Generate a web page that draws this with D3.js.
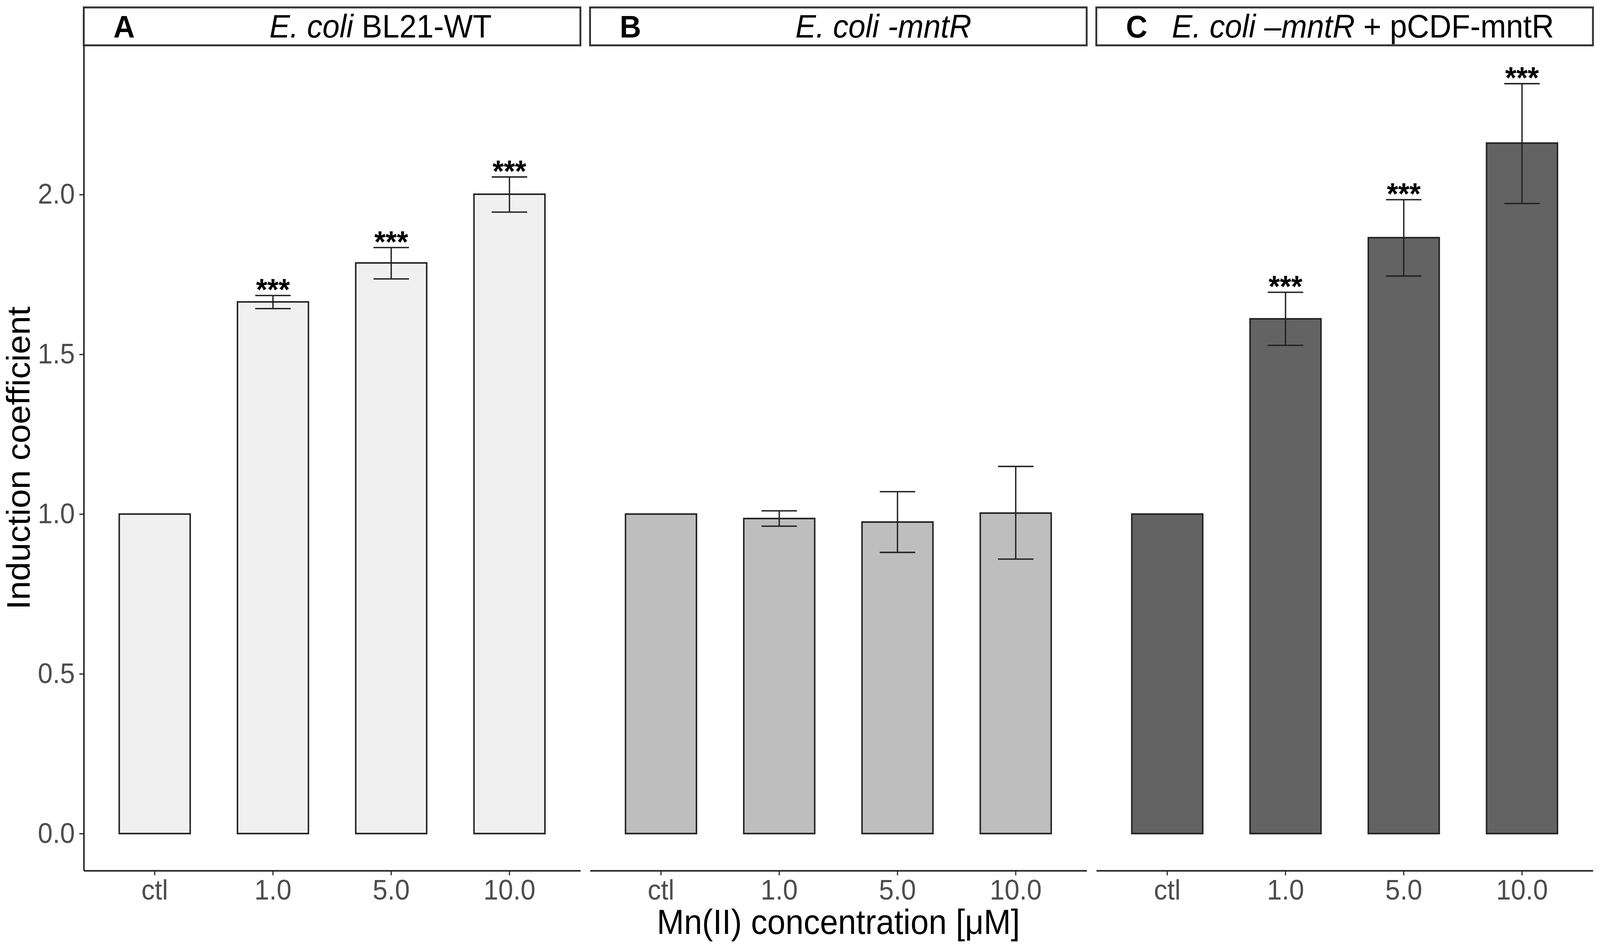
<!DOCTYPE html>
<html>
<head>
<meta charset="utf-8">
<script src="https://cdn.jsdelivr.net/npm/d3@7"></script>
<style>
  html, body { margin: 0; padding: 0; background: #fff; width: 100%; height: 100%; overflow: hidden; }
  svg { display: block; position: absolute; left: 0; top: 0; width: 100%; height: 100%; }
  text { font-family: "Liberation Sans", Arial, Helvetica, sans-serif; }
</style>
</head>
<body>
<svg id="chart" viewBox="0 0 4317 2426" preserveAspectRatio="none"></svg>
<script>
// ---------------- data ----------------
const categories = ["ctl", "1.0", "5.0", "10.0"];
const panelLetters = ["A", "B", "C"];

const meansA = [1.000, 1.664, 1.786, 2.001];
const lowerA = [null, 1.643, 1.736, 1.945];
const upperA = [null, 1.684, 1.834, 2.055];
const signifA = ["", "***", "***", "***"];

const meansB = [1.000, 0.986, 0.975, 1.003];
const lowerB = [null, 0.962, 0.880, 0.859];
const upperB = [null, 1.010, 1.070, 1.149];
const signifB = ["", "", "", ""];

const meansC = [1.000, 1.611, 1.865, 2.161];
const lowerC = [null, 1.528, 1.745, 1.972];
const upperC = [null, 1.694, 1.984, 2.347];
const signifC = ["", "***", "***", "***"];

const titleA = [{ t: "E. coli", italic: true }, { t: " BL21-WT", italic: false }];
const titleB = [{ t: "E. coli -mntR", italic: true }];
const titleC = [{ t: "E. coli \u2013mntR", italic: true }, { t: " + pCDF-mntR", italic: false }];

const yTicks = [0.0, 0.5, 1.0, 1.5, 2.0];
const yDomain = [-0.116, 2.467];
const xTitle = "Mn(II) concentration [\u03BCM]";
const yTitle = "Induction coefficient";

const fills = ["#f0f0f0", "#bebebe", "#636363"];

// ---------------- layout ----------------
const W = 4317, H = 2426;
const plotLeft = 226, plotRight = 4298;
const panelGap = 26;
const stripTop = 19, stripBottom = 116;
const panelBottom = 2228;
const titleOffsets = [501, 554, 204];  // start of strip title relative to strip left
const dark = "#222222";
const tickGrey = "#4d4d4d";

const panelsData = [
  { letter: panelLetters[0], means: meansA, lower: lowerA, upper: upperA, signif: signifA, title: titleA, fill: fills[0] },
  { letter: panelLetters[1], means: meansB, lower: lowerB, upper: upperB, signif: signifB, title: titleB, fill: fills[1] },
  { letter: panelLetters[2], means: meansC, lower: lowerC, upper: upperC, signif: signifC, title: titleC, fill: fills[2] }
];

const svg = d3.select("#chart");
svg.append("rect").attr("width", W).attr("height", H).attr("fill", "#fff");

const panelW = (plotRight - plotLeft - 2 * panelGap) / 3;

const y = d3.scaleLinear().domain(yDomain).range([panelBottom, stripBottom]);
const x = d3.scaleBand().domain(categories).range([0, panelW]).paddingInner(0.4).paddingOuter(0.3);

panelsData.forEach((p, i) => {
  const left = plotLeft + i * (panelW + panelGap);
  const g = svg.append("g").attr("transform", `translate(${left},0)`);

  // strip
  g.append("rect")
    .attr("x", 0).attr("y", stripTop)
    .attr("width", panelW).attr("height", stripBottom - stripTop)
    .attr("fill", "#fff").attr("stroke", "#333").attr("stroke-width", 5);

  g.append("text")
    .attr("x", 80).attr("y", 96)
    .attr("font-size", 80).attr("font-weight", "bold").attr("fill", "#000")
    .text(p.letter);

  const tt = g.append("text")
    .attr("x", titleOffsets[i]).attr("y", 96)
    .attr("font-size", 83).attr("fill", "#000");
  p.title.forEach(seg => {
    tt.append("tspan")
      .attr("font-style", seg.italic ? "italic" : "normal")
      .text(seg.t);
  });

  const rows = categories.map((c, j) => ({
    cat: c, mean: p.means[j], lo: p.lower[j], hi: p.upper[j], sig: p.signif[j]
  }));

  // bars
  g.selectAll("rect.bar").data(rows).enter().append("rect")
    .attr("class", "bar")
    .attr("x", d => x(d.cat))
    .attr("width", x.bandwidth())
    .attr("y", d => y(d.mean))
    .attr("height", d => y(0) - y(d.mean))
    .attr("fill", p.fill)
    .attr("stroke", dark).attr("stroke-width", 4);

  // error bars
  const eb = rows.filter(d => d.lo !== null);
  const capW = x.bandwidth() / 2;
  const eg = g.selectAll("g.err").data(eb).enter().append("g").attr("class", "err")
    .attr("stroke", dark).attr("stroke-width", 3.6).attr("fill", "none");
  eg.append("line")
    .attr("x1", d => x(d.cat) + x.bandwidth() / 2)
    .attr("x2", d => x(d.cat) + x.bandwidth() / 2)
    .attr("y1", d => y(d.lo)).attr("y2", d => y(d.hi));
  eg.append("line")
    .attr("x1", d => x(d.cat) + x.bandwidth() / 2 - capW / 2)
    .attr("x2", d => x(d.cat) + x.bandwidth() / 2 + capW / 2)
    .attr("y1", d => y(d.hi)).attr("y2", d => y(d.hi));
  eg.append("line")
    .attr("x1", d => x(d.cat) + x.bandwidth() / 2 - capW / 2)
    .attr("x2", d => x(d.cat) + x.bandwidth() / 2 + capW / 2)
    .attr("y1", d => y(d.lo)).attr("y2", d => y(d.lo));

  // significance
  g.selectAll("text.sig").data(eb.filter(d => d.sig)).enter().append("text")
    .attr("class", "sig")
    .attr("x", d => x(d.cat) + x.bandwidth() / 2)
    .attr("y", d => y(d.hi) + 12)
    .attr("text-anchor", "middle")
    .attr("font-size", 78).attr("font-weight", "bold").attr("fill", "#000")
    .text(d => d.sig);

  // x axis
  const xa = g.append("g").attr("transform", `translate(0,${panelBottom})`)
    .call(d3.axisBottom(x).tickSize(12).tickSizeOuter(0));
  xa.select(".domain").attr("stroke", dark).attr("stroke-width", 4);
  xa.selectAll(".tick line").attr("stroke", dark).attr("stroke-width", 3);
  xa.selectAll(".tick text")
    .attr("dy", null).attr("y", 74)
    .attr("font-size", 72).attr("fill", tickGrey)
    .style("font-family", "'Liberation Sans', Arial, sans-serif");

  // y axis on first panel only
  if (i === 0) {
    const ya = g.append("g")
      .call(d3.axisLeft(y).tickValues(yTicks).tickFormat(d3.format(".1f")).tickSize(12).tickSizeOuter(0).tickPadding(12));
    ya.select(".domain").attr("stroke", dark).attr("stroke-width", 4);
    ya.selectAll(".tick line").attr("stroke", dark).attr("stroke-width", 3);
    ya.selectAll(".tick text")
      .attr("font-size", 72).attr("fill", tickGrey)
      .style("font-family", "'Liberation Sans', Arial, sans-serif");
  }
});

// axis titles
svg.append("text")
  .attr("x", (plotLeft + plotRight) / 2).attr("y", 2390)
  .attr("text-anchor", "middle").attr("font-size", 88).attr("fill", "#000")
  .text(xTitle);

svg.append("text")
  .attr("transform", `translate(80,${(stripBottom + panelBottom) / 2}) rotate(-90)`)
  .attr("text-anchor", "middle").attr("font-size", 88).attr("fill", "#000")
  .text(yTitle);
</script>
</body>
</html>
